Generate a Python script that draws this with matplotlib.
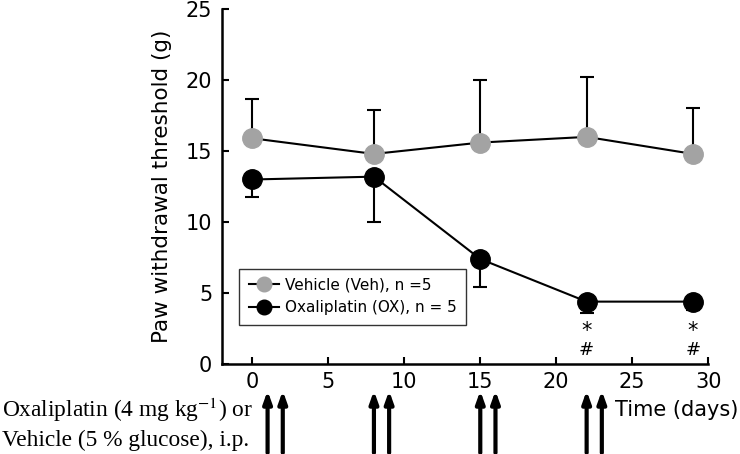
import matplotlib
matplotlib.use('Agg')
import matplotlib.pyplot as plt
import matplotlib.transforms as mtransforms

# Data
days = [0, 8, 15, 22, 29]
veh_mean = [15.9, 14.8, 15.6, 16.0, 14.8]
veh_err = [2.8, 3.1, 4.4, 4.2, 3.2]
ox_mean = [13.0, 13.2, 7.4, 4.4, 4.4]
ox_err = [1.2, 3.2, 2.0, 0.8, 0.6]
dose_days = [1, 2, 8, 9, 15, 16, 22, 23]
sig_days = [22, 29]

x_ticks = [0, 5, 10, 15, 20, 25, 30]
y_ticks = [0, 5, 10, 15, 20, 25]

plt.rcParams['font.family'] = ['DejaVu Sans']
plt.rcParams['mathtext.fontset'] = 'stix'

fig = plt.figure(figsize=(7.4, 4.54), dpi=100)
ax = fig.add_axes([0.3, 0.198, 0.657, 0.782])

# vehicle: error bars up only, oxaliplatin: down only
ax.errorbar(days, veh_mean, yerr=[[0]*len(veh_err), veh_err], color='black',
            lw=1.5, capsize=5, capthick=1.5, elinewidth=1.5, fmt='none', zorder=2)
ax.errorbar(days, ox_mean, yerr=[ox_err, [0]*len(ox_err)], color='black',
            lw=1.5, capsize=5, capthick=1.5, elinewidth=1.5, fmt='none', zorder=2)
ax.plot(days, veh_mean, '-o', color='black', lw=1.5, ms=14,
        mfc='#a3a3a3', mec='#a3a3a3', label='Vehicle (Veh), n =5', zorder=3)
ax.plot(days, ox_mean, '-o', color='black', lw=1.5, ms=14,
        mfc='black', mec='black', label='Oxaliplatin (OX), n = 5', zorder=3)

for d in sig_days:
    ax.text(d, 2.3, '*', ha='center', va='center', fontsize=15)
    ax.text(d, 1.0, '#', ha='center', va='center', fontsize=13)

ax.set_xlim(-2, 30)
ax.set_ylim(0, 25)
ax.set_xticks(x_ticks)
ax.set_yticks(y_ticks)
ax.tick_params(direction='in', length=5, width=1.5, labelsize=15, pad=6)
ax.tick_params(axis='y', pad=7)
for s in ['top', 'right']:
    ax.spines[s].set_visible(False)
for s in ['left', 'bottom']:
    ax.spines[s].set_linewidth(1.8)
ax.set_ylabel('Paw withdrawal threshold (g)', fontsize=15.5, labelpad=10)

leg = ax.legend(loc='lower left', bbox_to_anchor=(0.02, 0.09), fontsize=11,
                frameon=True, fancybox=False, edgecolor='black', handlelength=2.0,
                borderpad=0.6, labelspacing=0.5, markerscale=0.75,
                handletextpad=0.4)
leg.get_frame().set_linewidth(1.0)

# injection arrows below the axis
trans = mtransforms.blended_transform_factory(ax.transData, ax.transAxes)
for d in dose_days:
    ax.annotate('', xy=(d, -0.075), xytext=(d, -0.25), xycoords=trans, textcoords=trans,
                arrowprops=dict(arrowstyle='-|>,head_length=0.7,head_width=0.25',
                                lw=3, color='black', shrinkA=0, shrinkB=0),
                annotation_clip=False)

fig.text(0.003, 0.097, 'Oxaliplatin (4 mg kg$^{-1}$) or', fontsize=16.8,
         family='Liberation Serif', va='center', ha='left')
fig.text(0.003, 0.031, 'Vehicle (5 % glucose), i.p.', fontsize=16.8,
         family='Liberation Serif', va='center', ha='left')
fig.text(0.998, 0.097, 'Time (days)', fontsize=15, va='center', ha='right')

fig.savefig('out.png', dpi=100)
